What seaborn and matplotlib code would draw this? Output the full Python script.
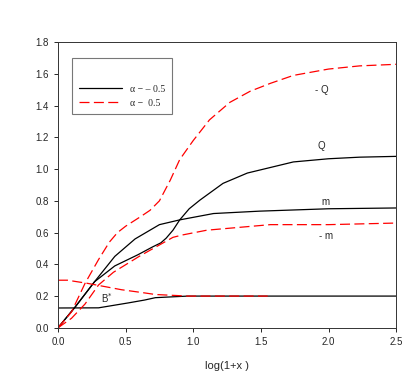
import pandas as pd
import matplotlib
matplotlib.use("Agg")
import matplotlib.pyplot as plt
import seaborn as sns
from matplotlib.lines import Line2D

# curves, alpha = -0.5 (black solid)
bs_x = [0, 0.30, 0.52, 0.64, 0.72, 0.96, 1.5, 2.5]
bs_y = [0.125, 0.126, 0.157, 0.175, 0.19, 0.20, 0.20, 0.20]
m_x = [0, 0.126, 0.27, 0.42, 0.57, 0.75, 0.90, 1.15, 1.49, 2.0, 2.5]
m_y = [0, 0.13, 0.29, 0.45, 0.56, 0.65, 0.68, 0.72, 0.735, 0.75, 0.755]
q_x = [0, 0.126, 0.27, 0.42, 0.59, 0.70, 0.76, 0.80, 0.85, 0.90, 0.97, 1.05,
       1.22, 1.40, 1.57, 1.74, 2.0, 2.23, 2.5]
q_y = [0, 0.13, 0.29, 0.39, 0.46, 0.51, 0.535, 0.565, 0.615, 0.68, 0.75, 0.805,
       0.91, 0.975, 1.01, 1.045, 1.065, 1.075, 1.08]

# alpha = 0.5 (red dashed)
bs2_x = [0, 0.07, 0.22, 0.47, 0.64, 0.72, 0.96, 1.55]
bs2_y = [0.30, 0.30, 0.28, 0.24, 0.22, 0.21, 0.20, 0.20]
m2_x = [0, 0.1, 0.2, 0.3, 0.41, 0.6, 0.85, 0.92, 1.1, 1.57, 2.0, 2.5]
m2_y = [0, 0.06, 0.15, 0.27, 0.35, 0.45, 0.57, 0.585, 0.615, 0.65, 0.65, 0.66]
q2_x = [0, 0.1, 0.2, 0.3, 0.38, 0.44, 0.5, 0.61, 0.68, 0.75, 0.83, 0.90, 1.0,
        1.12, 1.27, 1.42, 1.57, 1.74, 2.0, 2.23, 2.5]
q2_y = [0, 0.10, 0.28, 0.43, 0.54, 0.60, 0.64, 0.70, 0.74, 0.80, 0.93, 1.06,
        1.18, 1.31, 1.42, 1.49, 1.54, 1.59, 1.63, 1.65, 1.66]

legend_labels = ["\u03b1 \u2212 \u2013 0.5", "\u03b1 \u2212  0.5"]

sns.set_theme(style="ticks")
plt.rcParams.update({
    'font.family': ['Liberation Sans', 'DejaVu Sans'],
    'font.size': 7,
    'xtick.labelsize': 7,
    'ytick.labelsize': 7,
    'xtick.direction': 'out',
    'ytick.direction': 'out',
    'xtick.major.size': 3,
    'ytick.major.size': 3,
    'xtick.major.width': 0.7,
    'ytick.major.width': 0.7,
    'axes.linewidth': 0.7,
    'axes.edgecolor': '#333333',
})

fig = plt.figure(figsize=(4.14, 3.79), dpi=100)
ax = fig.add_axes([0.140, 0.135, 0.817, 0.754])

black = dict(color="black", lw=0.9)
red = dict(color="red", lw=0.9, dashes=(8, 3.5))
for xs, ys in [(bs_x, bs_y), (m_x, m_y), (q_x, q_y)]:
    sns.lineplot(x=xs, y=ys, ax=ax, sort=False, estimator=None, **black)
for xs, ys in [(bs2_x, bs2_y), (m2_x, m2_y), (q2_x, q2_y)]:
    sns.lineplot(x=xs, y=ys, ax=ax, sort=False, estimator=None, **red)

ax.set_xlim(0, 2.5)
ax.set_ylim(0, 1.8)
ax.set_xticks([0, 0.5, 1.0, 1.5, 2.0, 2.5])
ax.set_yticks([0, 0.2, 0.4, 0.6, 0.8, 1.0, 1.2, 1.4, 1.6, 1.8])
ax.set_xticklabels(["0.0", "0.5", "1.0", "1.5", "2.0", "2.5"])
ax.set_yticklabels([f"{v:.1f}" for v in ax.get_yticks()])
ax.set_xlabel("log(1+x )", fontsize=8, labelpad=10)
ax.set_ylabel("")

# curve labels
ax.text(1.95, 1.50, "- Q", fontsize=7, ha="center", va="center")
ax.text(1.95, 1.145, "Q", fontsize=7, ha="center", va="center")
ax.text(1.975, 0.79, "m", fontsize=7, ha="center", va="center")
ax.text(1.98, 0.58, "- m", fontsize=7, ha="center", va="center")
ax.text(0.36, 0.19, "B$^{*}$", fontsize=7, ha="center", va="center")

handles = [Line2D([], [], **black), Line2D([], [], color="red", lw=0.9, ls=(0, (8, 3.5)))]
leg = ax.legend(handles, legend_labels, title=" ", loc="upper left",
                bbox_to_anchor=(0.041, 0.944), borderaxespad=0,
                frameon=True, fancybox=False,
                handlelength=4.5, borderpad=0.7, labelspacing=0.5,
                prop={'family': 'Liberation Serif', 'size': 7})
leg.get_frame().set_edgecolor("#555555")
leg.get_frame().set_linewidth(0.8)

fig.savefig("out.png", dpi=100)
